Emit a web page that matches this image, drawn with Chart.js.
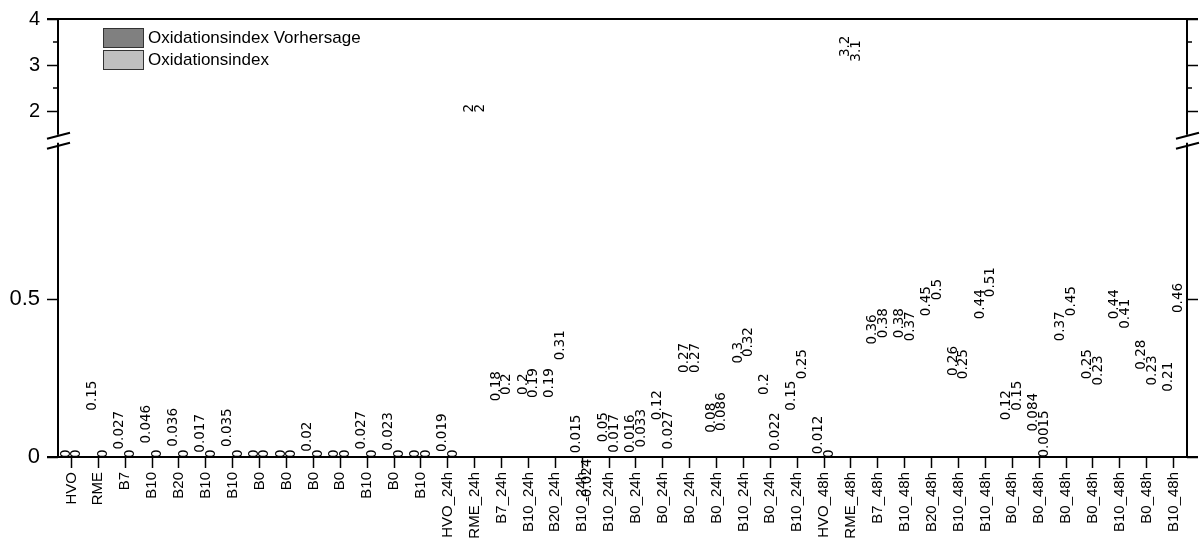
<!DOCTYPE html>
<html>
<head>
<meta charset="utf-8">
<title>Oxidationsindex</title>
<script src="https://cdn.jsdelivr.net/npm/chart.js@4.4.1/dist/chart.umd.min.js"></script>
<style>
    body { margin: 0; background: #fff; }
    #wrap { width: 1202px; height: 552px; }
</style>
</head>
<body>
<div id="wrap"><canvas id="chart" width="1202" height="552"></canvas></div>
<script>
/*
        Oxidationsindex per sample (0h, 24h, 48h), measured vs. predicted.
    Broken value axis: 0..1 below the break, 1.5..4 above it.
*/

const categories = [
    "HVO", "RME", "B7", "B10", "B20", "B10", "B10", "B0", "B0", "B0", "B0", "B10", "B0", "B10",
    "HVO_24h", "RME_24h", "B7_24h", "B10_24h", "B20_24h", "B10_24h", "B10_24h",
    "B0_24h", "B0_24h", "B0_24h", "B0_24h", "B10_24h", "B0_24h", "B10_24h",
    "HVO_48h", "RME_48h", "B7_48h", "B10_48h", "B20_48h", "B10_48h", "B10_48h",
    "B0_48h", "B0_48h", "B0_48h", "B0_48h", "B10_48h", "B0_48h", "B10_48h"
];
const vorhersage = [
    0, 0.15, 0.027, 0.046, 0.036, 0.017, 0.035, 0, 0, 0.02, 0, 0.027, 0.023, 0,
    0.019, 2, 0.18, 0.2, 0.19, 0.015, 0.05, 0.016, 0.12, 0.27, 0.08, 0.3, 0.2, 0.15,
    0.012, 3.2, 0.36, 0.38, 0.45, 0.26, 0.44, 0.12, 0.084, 0.37, 0.25, 0.44, 0.28, 0.21
];
const oxidationsindex = [
    0, 0, 0, 0, 0, 0, 0, 0, 0, 0, 0, 0, 0, 0,
    0, 2, 0.2, 0.19, 0.31, -0.024, 0.017, 0.033, 0.027, 0.27, 0.086, 0.32, 0.022, 0.25,
    0, 3.1, 0.38, 0.37, 0.5, 0.25, 0.51, 0.15, 0.0015, 0.45, 0.23, 0.41, 0.23, 0.46
];
const seriesNames = ["Oxidationsindex Vorhersage", "Oxidationsindex"];
const seriesColors = ["#808080", "#c0c0c0"];
const yMajorTicks = [0, 0.5, 2, 3, 4];
const yMinorTicks = [2.5, 3.5];
const lowerRange = [0, 1];
const upperRange = [1.5, 4];

const FONT = "'Liberation Sans', Arial, sans-serif";

// Linear scale with a gap: lower band and upper band share the height
class BrokenScale extends Chart.LinearScale {
    getPixelForValue(value) {
        const b = this.options.broken;
        const h = this.bottom - this.top;
        const lowH = h * b.lowerShare;
        const upBottom = this.bottom - lowH - h * b.gapShare;
        if (value <= b.lower[1]) {
            return this.bottom - (value - b.lower[0]) / (b.lower[1] - b.lower[0]) * lowH;
        }
        return upBottom - (value - b.upper[0]) / (b.upper[1] - b.upper[0]) * (upBottom - this.top);
    }
}
BrokenScale.id = "broken";
BrokenScale.defaults = Chart.LinearScale.defaults;
Chart.register(BrokenScale);

const brokenOpts = { lower: lowerRange, upper: upperRange, lowerShare: 0.7198, gapShare: 0.0159 };

function setMajorTicks(scale) {
    scale.ticks = yMajorTicks.map((v) => ({ value: v }));
}

// Value labels written upwards from the bar ends
const valueLabels = {
    id: "valueLabels",
    afterDatasetsDraw(chart) {
        const ctx = chart.ctx;
        ctx.save();
        ctx.fillStyle = "#000";
        ctx.font = "13.5px 'DejaVu Sans', sans-serif";
        ctx.textBaseline = "middle";
        chart.data.datasets.forEach((ds, di) => {
            chart.getDatasetMeta(di).data.forEach((bar, i) => {
                const v = ds.data[i];
                ctx.save();
                ctx.translate(bar.x, v < 0 ? bar.y - 6 : bar.y + 1);
                ctx.rotate(-Math.PI / 2);
                ctx.textAlign = v < 0 ? "right" : "left";
                ctx.fillText(String(v), 0, 0);
                ctx.restore();
            });
        });
        ctx.restore();
    }
};

// Frame, axis lines with break marks, minor ticks and legend
const frame = {
    id: "frame",
    afterDraw(chart) {
        const ctx = chart.ctx;
        const a = chart.chartArea;
        const y = chart.scales.y;
        const t = 11;
        const upBottom = y.getPixelForValue(upperRange[0]);
        const lowTop = y.getPixelForValue(lowerRange[1]);

        ctx.save();
        ctx.strokeStyle = "#000";
        ctx.lineWidth = 2;
        ctx.beginPath();
        ctx.moveTo(a.left - t, a.top); ctx.lineTo(a.right + t, a.top);
        ctx.moveTo(a.left - t, a.bottom); ctx.lineTo(a.right + t, a.bottom);
        [a.left, a.right].forEach((x) => {
            ctx.moveTo(x, a.top); ctx.lineTo(x, upBottom);
            ctx.moveTo(x, lowTop + 1); ctx.lineTo(x, a.bottom);
        });
        ctx.stroke();

        // break marks
        ctx.beginPath();
        [a.left, a.right].forEach((x) => {
            [upBottom + 1, lowTop + 4].forEach((yc) => {
                ctx.moveTo(x - 11, yc + 3);
                ctx.lineTo(x + 12, yc - 3);
            });
        });
        ctx.stroke();

        // minor ticks
        ctx.lineWidth = 1.5;
        ctx.beginPath();
        yMinorTicks.forEach((v) => {
            const py = Math.round(y.getPixelForValue(v));
            ctx.moveTo(a.left - 5, py); ctx.lineTo(a.left, py);
            ctx.moveTo(a.right, py); ctx.lineTo(a.right + 5, py);
        });
        ctx.stroke();

        // legend
        ctx.font = "17px " + FONT;
        ctx.textAlign = "left";
        ctx.textBaseline = "middle";
        seriesNames.forEach((name, i) => {
            const bx = a.left + 45;
            const by = a.top + 9 + i * 22;
            ctx.fillStyle = seriesColors[i];
            ctx.fillRect(bx, by, 40, 19);
            ctx.lineWidth = 1;
            ctx.strokeStyle = "#333";
            ctx.strokeRect(bx + 0.5, by + 0.5, 40, 19);
            ctx.fillStyle = "#000";
            ctx.fillText(name, bx + 45, by + 10);
        });
        ctx.restore();
    }
};

const yGrid = { drawOnChartArea: false, tickLength: 11, tickColor: "#000", tickWidth: 1.5 };

new Chart(document.getElementById("chart"), {
    type: "bar",
    data: {
        labels: categories,
        datasets: [
            { label: seriesNames[0], data: vorhersage, backgroundColor: "rgba(0,0,0,0)", borderWidth: 0 },
            { label: seriesNames[1], data: oxidationsindex, backgroundColor: "rgba(0,0,0,0)", borderWidth: 0 }
        ]
    },
    options: {
        responsive: false,
        animation: false,
        categoryPercentage: 0.8,
        barPercentage: 0.9,
        layout: { padding: { top: 18, left: 0, right: 0, bottom: 0 } },
        plugins: {
            legend: { display: false },
            tooltip: { enabled: false }
        },
        scales: {
            x: {
                offset: true,
                grid: { drawOnChartArea: false, tickLength: 11, tickColor: "#000", tickWidth: 1.5, offset: false },
                border: { display: false },
                ticks: {
                    autoSkip: false, minRotation: 90, maxRotation: 90, padding: 4,
                    color: "#000", font: { family: FONT, size: 15 }
                },
                afterFit: (s) => { s.height = 95; }
            },
            y: {
                type: "broken",
                position: "left",
                min: 0, max: 4,
                broken: brokenOpts,
                afterBuildTicks: setMajorTicks,
                grid: yGrid,
                border: { display: false },
                ticks: {
                    color: "#000", padding: 7,
                    font: (c) => ({ family: FONT, size: c.tick && c.tick.value < 1 ? 22 : 20 })
                },
                afterFit: (s) => { s.width = 58; }
            },
            yRight: {
                type: "broken",
                position: "right",
                min: 0, max: 4,
                broken: brokenOpts,
                afterBuildTicks: setMajorTicks,
                grid: yGrid,
                border: { display: false },
                ticks: { display: false },
                afterFit: (s) => { s.width = 15; }
            }
        }
    },
    plugins: [valueLabels, frame]
});
</script>
</body>
</html>
